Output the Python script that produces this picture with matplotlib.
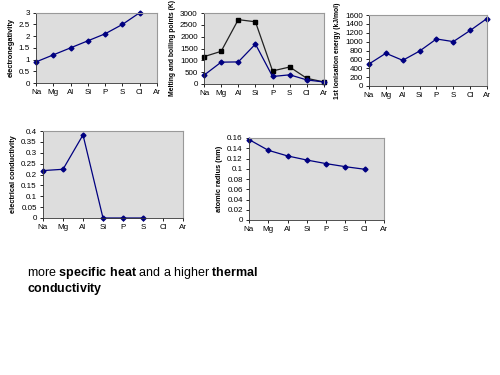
import matplotlib
matplotlib.use("Agg")
import matplotlib.pyplot as plt

plt.rcParams["font.family"] = ["Liberation Sans", "DejaVu Sans"]
plt.rcParams["mathtext.fontset"] = "custom"
plt.rcParams["mathtext.rm"] = "Liberation Sans"
plt.rcParams["mathtext.bf"] = "Liberation Sans:bold"

W, H = 500, 375

elements = ["Na", "Mg", "Al", "Si", "P", "S", "Cl", "Ar"]

electroneg = [0.9, 1.2, 1.5, 1.8, 2.1, 2.5, 3.0]
melting = [371, 923, 933, 1687, 317, 388, 172, 84]
boiling = [1156, 1380, 2720, 2628, 553, 718, 239, 87]
ionisation = [496, 738, 578, 787, 1060, 1000, 1251, 1521]
conductivity = [0.218, 0.224, 0.382, 0, 0, 0]
radius = [0.157, 0.136, 0.125, 0.117, 0.110, 0.104, 0.099]

NAVY = "#000080"
PLOT_BG = "#dddddd"


def make_ax(fig, left, right, top, bottom, ylabel, ymax, ystep, lsize=5.3):
    ax = fig.add_axes([left / W, 1 - bottom / H, (right - left) / W, (bottom - top) / H])
    ax.set_facecolor(PLOT_BG)
    ax.set_xlim(0, len(elements) - 1)
    ax.set_xticks(range(len(elements)))
    ax.set_xticklabels(elements)
    ax.set_ylim(0, ymax)
    n = int(round(ymax / ystep))
    ticks = [i * ystep for i in range(n + 1)]
    ax.set_yticks(ticks)
    ax.set_yticklabels([f"{round(t, 4):g}" for t in ticks])
    ax.tick_params(labelsize=5.8, length=2.5, width=0.6, pad=2, colors="black")
    for s in ["top", "right"]:
        ax.spines[s].set_color("#999999")
        ax.spines[s].set_linewidth(0.8)
    for s in ["left", "bottom"]:
        ax.spines[s].set_color("#333333")
        ax.spines[s].set_linewidth(0.6)
    ax.set_ylabel(ylabel, fontsize=lsize, fontweight="bold", labelpad=3)
    return ax


fig = plt.figure(figsize=(5, 3.75), dpi=100)
fig.patch.set_facecolor("white")

ax1 = make_ax(fig, 36, 157, 12.7, 83, "electronegativity", 3, 0.5)
ax1.plot(range(len(electroneg)), electroneg, color=NAVY, lw=0.9,
         marker="D", ms=2.5, clip_on=False)

ax2 = make_ax(fig, 204, 324, 13, 84, "Melting and boiling points (K)", 3000, 500, lsize=4.9)
ax2.plot(range(len(boiling)), boiling, color="#222222", lw=0.9,
         marker="s", ms=3.5, mfc="black", mec="black", clip_on=False)
ax2.plot(range(len(melting)), melting, color=NAVY, lw=0.9,
         marker="D", ms=2.5, clip_on=False)

ax3 = make_ax(fig, 369, 487, 15, 86, "1st ionisation energy (kJ/mol)", 1600, 200, lsize=4.9)
ax3.plot(range(len(ionisation)), ionisation, color=NAVY, lw=0.9,
         marker="D", ms=2.5, clip_on=False)

ax4 = make_ax(fig, 43, 183, 131, 218, "electrical conductivity", 0.4, 0.05)
ax4.plot(range(len(conductivity)), conductivity, color=NAVY, lw=0.9,
         marker="D", ms=2.5, clip_on=False)

ax5 = make_ax(fig, 249, 384, 138, 220, "atomic radius (nm)", 0.16, 0.02)
ax5.plot(range(len(radius)), radius, color=NAVY, lw=0.9,
         marker="D", ms=2.5, clip_on=False)

# caption below the charts
fig.text(27 / W, 1 - 273 / H,
         r"more $\mathbf{specific\ heat}$ and a higher $\mathbf{thermal}$",
         fontsize=9, ha="left", va="center")
fig.text(27 / W, 1 - 289 / H, r"$\mathbf{conductivity}$",
         fontsize=9, ha="left", va="center")

fig.savefig("out.png", dpi=100, facecolor="white")
